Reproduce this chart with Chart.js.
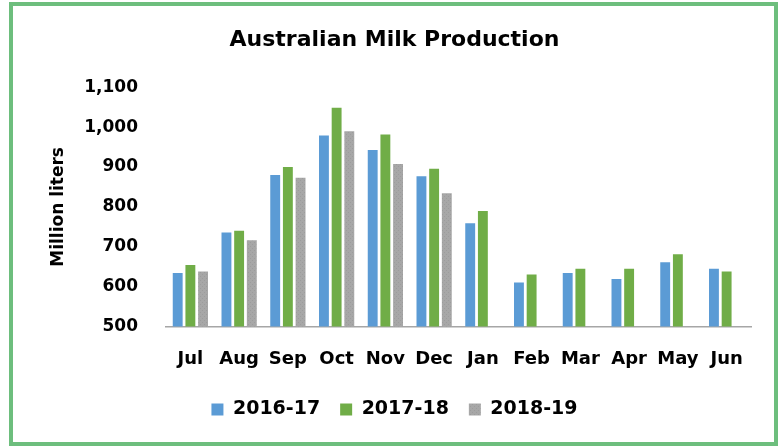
<!DOCTYPE html>
<html>
<head>
<meta charset="utf-8">
<script src="https://cdn.jsdelivr.net/npm/chart.js@4"></script>
<style>
    html, body { margin: 0; padding: 0; background: #fff; }
    #wrap { position: relative; width: 778px; height: 446px; }
    #frame {
        position: absolute; left: 9px; top: 2px; width: 769px; height: 444px;
        box-sizing: border-box; border: 4px solid #6dbe7d; pointer-events: none;
    }
</style>
</head>
<body>
<div id="wrap">
    <canvas id="milk-chart" width="778" height="446"></canvas>
    <div id="frame"></div>
</div>
<script>
// Monthly milk production (million liters)
const months = ['Jul', 'Aug', 'Sep', 'Oct', 'Nov', 'Dec', 'Jan', 'Feb', 'Mar', 'Apr', 'May', 'Jun'];
const season1617 = [634, 736, 880, 979, 943, 877, 759, 610, 634, 619, 661, 645];
const season1718 = [654, 740, 900, 1049, 982, 896, 790, 630, 645, 645, 681, 638];
const season1819 = [638, 716, 873, 990, 908, 834, null, null, null, null, null, null];
const seasonLabels = ['2016-17', '2017-18', '2018-19'];

// Speckled grey fill like the original's third series
function greyPattern() {
    const c = document.createElement('canvas');
    c.width = 4;
    c.height = 4;
    const g = c.getContext('2d');
    g.fillStyle = '#a7a7a7';
    g.fillRect(0, 0, 4, 4);
    g.fillStyle = '#9c9c9c';
    g.fillRect(0, 0, 1, 1);
    g.fillRect(2, 2, 1, 1);
    return g.createPattern(c, 'repeat');
}

const font = 'DejaVu Sans';

const ctx = document.getElementById('milk-chart').getContext('2d');
const chart = new Chart(ctx, {
    type: 'bar',
    data: {
        labels: months,
        datasets: [
            { label: seasonLabels[0], data: season1617, backgroundColor: '#5b9bd5' },
            { label: seasonLabels[1], data: season1718, backgroundColor: '#70ad47' },
            { label: seasonLabels[2], data: season1819, backgroundColor: greyPattern() }
        ]
    },
    options: {
        responsive: false,
        animation: false,
        categoryPercentage: 0.78,
        barPercentage: 0.78,
        layout: {
            padding: { left: 38, right: 27, top: 0, bottom: 17 }
        },
        plugins: {
            title: {
                display: true,
                text: 'Australian Milk Production',
                color: '#000',
                font: { family: font, size: 22, weight: 'bold' },
                padding: { top: 27, bottom: 34 }
            },
            legend: {
                position: 'bottom',
                labels: {
                    color: '#000',
                    boxWidth: 12,
                    boxHeight: 12,
                    padding: 20,
                    font: { family: font, size: 19, weight: 'bold' }
                }
            },
            tooltip: { enabled: false }
        },
        scales: {
            x: {
                grid: { display: false, drawTicks: false },
                border: { display: true, color: '#a6a6a6', width: 1.5 },
                ticks: {
                    color: '#000',
                    padding: 22,
                    font: { family: font, size: 18, weight: 'bold' }
                },
                // pull the legend a bit closer to the month labels
                afterFit: function (scale) {
                    scale.height -= 12;
                }
            },
            y: {
                min: 500,
                max: 1100,
                grid: { display: false, drawTicks: false },
                border: { display: false },
                ticks: {
                    stepSize: 100,
                    color: '#000',
                    padding: 28,
                    font: { family: font, size: 17, weight: 'bold' }
                },
                title: {
                    display: true,
                    text: 'Million liters',
                    color: '#000',
                    padding: { top: 10, bottom: 0 },
                    font: { family: font, size: 17, weight: 'bold' }
                },
                afterFit: function (scale) {
                    scale.width = 128;
                }
            }
        }
    }
});
</script>
</body>
</html>
